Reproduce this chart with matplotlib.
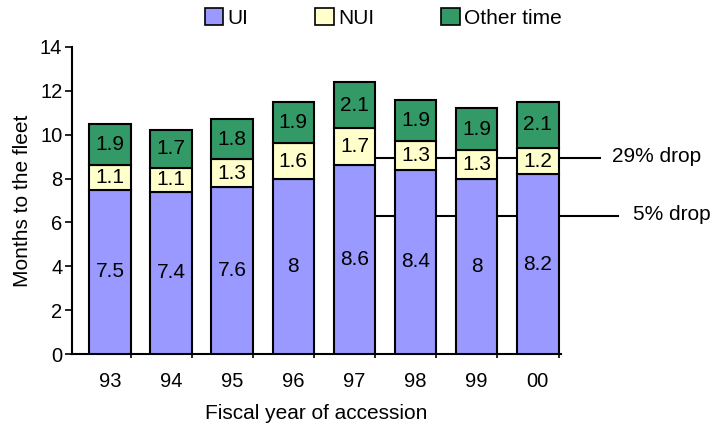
import matplotlib
matplotlib.use("Agg")
import matplotlib.pyplot as plt
from matplotlib.patches import Patch
import numpy as np

plt.rcParams['font.family'] = ['Liberation Sans', 'DejaVu Sans']

years = ["93", "94", "95", "96", "97", "98", "99", "00"]
ui = [7.5, 7.4, 7.6, 8, 8.6, 8.4, 8, 8.2]
nui = [1.1, 1.1, 1.3, 1.6, 1.7, 1.3, 1.3, 1.2]
other = [1.9, 1.7, 1.8, 1.9, 2.1, 1.9, 1.9, 2.1]

drop_levels = [8.94, 6.3]
drop_labels = ["29% drop", "5% drop"]

c_ui = "#9999FF"
c_nui = "#FFFFCC"
c_other = "#339966"

fig = plt.figure(figsize=(7.16, 4.23), dpi=100)
ax = fig.add_axes([0.1006, 0.163, 0.6829, 0.726])

x = np.arange(len(years))
w = 0.68
ui_a = np.array(ui)
nui_a = np.array(nui)
oth_a = np.array(other)

ax.bar(x, ui_a, w, color=c_ui, edgecolor="black", linewidth=1.5, zorder=3)
ax.bar(x, nui_a, w, bottom=ui_a, color=c_nui, edgecolor="black", linewidth=1.5, zorder=3)
ax.bar(x, oth_a, w, bottom=ui_a + nui_a, color=c_other, edgecolor="black", linewidth=1.5, zorder=3)

for i in range(len(years)):
    ax.text(x[i], ui_a[i] / 2, f"{ui[i]:g}", ha="center", va="center", fontsize=15, zorder=4)
    ax.text(x[i], ui_a[i] + nui_a[i] / 2, f"{nui[i]:g}", ha="center", va="center", fontsize=15, zorder=4)
    ax.text(x[i], ui_a[i] + nui_a[i] + oth_a[i] / 2, f"{other[i]:g}", ha="center", va="center", fontsize=15, zorder=4)

# drop lines, drawn behind the bars from the 97 bar out past the axes
ends = [8.02, 8.31]
text_x = [8.22, 8.56]
for lvl, lab, xe, xt in zip(drop_levels, drop_labels, ends, text_x):
    ax.plot([4, xe], [lvl, lvl], color="black", linewidth=1.5, zorder=1, clip_on=False)
    ax.text(xt, lvl + 0.05, lab, ha="left", va="center", fontsize=15, clip_on=False)

ax.set_xlim(-0.62, 7.38)
ax.set_ylim(0, 14)
ax.set_yticks(range(0, 15, 2))
ax.set_xticks(x)
ax.set_xticklabels(years)
ax.set_xticks(x + w / 2, minor=True)
ax.tick_params(axis="x", which="major", length=0, labelsize=14.5, pad=13)
ax.tick_params(axis="x", which="minor", length=6, direction="inout", width=1.2)
ax.tick_params(axis="y", labelsize=14.5, length=5, width=1.2, direction="out", pad=2)

for s in ["top", "right"]:
    ax.spines[s].set_visible(False)
ax.spines["left"].set_linewidth(1.5)
ax.spines["bottom"].set_linewidth(1.5)

ax.set_xlabel("Fiscal year of accession", fontsize=15, labelpad=9)
ax.set_ylabel("Months to the fleet", fontsize=15, labelpad=6)

handles = [Patch(facecolor=c_ui, edgecolor="black", linewidth=1.2),
           Patch(facecolor=c_nui, edgecolor="black", linewidth=1.2),
           Patch(facecolor=c_other, edgecolor="black", linewidth=1.2)]
fig.legend(handles, ["UI", "NUI", "Other time"], loc="center", bbox_to_anchor=(0.535, 0.958),
           ncol=3, frameon=False, fontsize=15, handlelength=0.9, handleheight=0.9,
           handletextpad=0.2, columnspacing=3.2, borderpad=0)

fig.savefig("out.png", dpi=100)
